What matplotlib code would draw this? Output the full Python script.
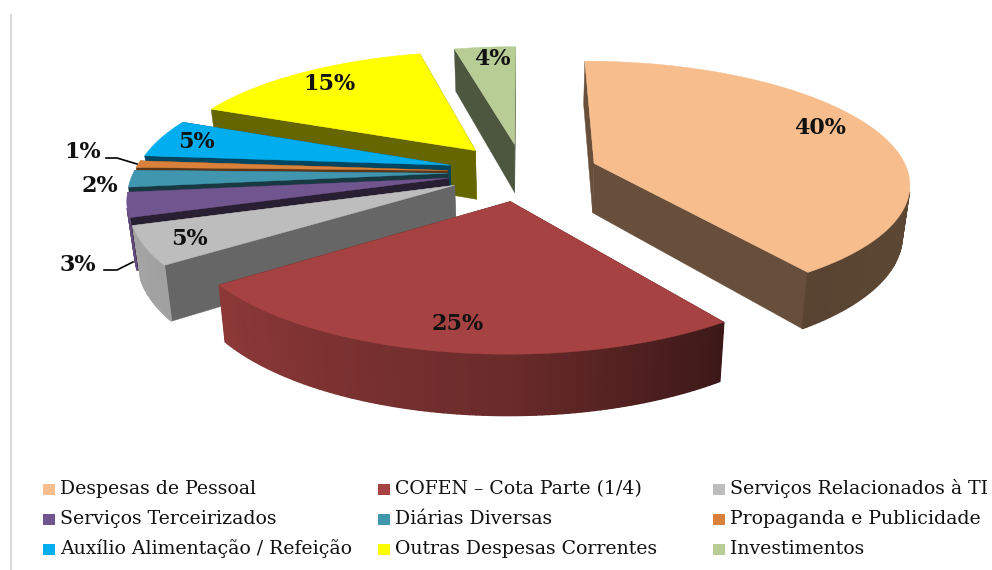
#!/usr/bin/env python
import numpy as np
import matplotlib
matplotlib.use("Agg")
import matplotlib.pyplot as plt

categories = ["Despesas de Pessoal", "COFEN – Cota Parte (1/4)", "Serviços Relacionados à TI",
              "Serviços Terceirizados", "Diárias Diversas", "Propaganda e Publicidade",
              "Auxílio Alimentação / Refeição", "Outras Despesas Correntes", "Investimentos"]
# shares, the chart labels round them
shares = [40.2, 24.8, 5.0, 3.2, 2.2, 0.9, 5.0, 15.0, 3.7]
colors = ["#F7BD8C", "#A64342", "#BDBDBD", "#70558F", "#3F96AE",
          "#D9813A", "#00AEEF", "#FFFF00", "#B8CC96"]
side_shade = [0.42, 0.42, 0.54, 0.36, 0.38, 0.42, 0.40, 0.40, 0.42]
label_pos = [(820, 128), (458, 324), (189, 239), (78, 265), (100, 186),
             (83, 152), (196, 142), (329, 84), (492, 59)]

# fake 3d camera, all in image pixels
CX, CY = 523, 172
RX, RY = 314, 120
PERSP = 0.15
DEPTH = 50
EXPLODE = 0.24
TAPER = 0.02


def project(px, py, low=False):
    s = 1 / (1 - PERSP * py)
    x = RX * px * s
    y = RY * py * s
    if low:
        return CX + x * (1 - TAPER), CY + y + DEPTH * s
    return CX + x, CY + y


def rgb(c, f):
    r, g, b = matplotlib.colors.to_rgb(c)
    return (r * f, g * f, b * f)


def front_facing(xs, ys):
    # y axis is flipped, clockwise on screen is positive here
    a = 0.
    for i in range(len(xs)):
        j = (i + 1) % len(xs)
        a += xs[i] * ys[j] - xs[j] * ys[i]
    return a


def draw_slice(ax, start, sweep, color, shade):
    mid = np.radians(start + sweep / 2)
    ox, oy = EXPLODE * np.sin(mid), -EXPLODE * np.cos(mid)
    th = np.radians(np.linspace(start, start + sweep, max(int(sweep), 2) + 1))
    rim_x = ox + np.sin(th)
    rim_y = oy - np.cos(th)

    # radial walls first
    for ex, ey in [(rim_x[0], rim_y[0]), (rim_x[-1], rim_y[-1])]:
        a = project(ox, oy)
        b = project(ex, ey)
        c = project(ex, ey, low=True)
        d = project(ox, oy, low=True)
        ax.fill([a[0], b[0], c[0], d[0]], [a[1], b[1], c[1], d[1]],
                color=rgb(color, shade), lw=0.3, zorder=2)

    # outer wall, small facets so the shading can run round the rim
    for i in range(len(th) - 1):
        a = project(rim_x[i], rim_y[i])
        b = project(rim_x[i + 1], rim_y[i + 1])
        c = project(rim_x[i + 1], rim_y[i + 1], low=True)
        d = project(rim_x[i], rim_y[i], low=True)
        xs = [a[0], b[0], c[0], d[0]]
        ys = [a[1], b[1], c[1], d[1]]
        if front_facing(xs, ys) > 0:
            continue
        f = np.interp(np.degrees(th[i]), [0, 144, 180, 234, 260, 360],
                      [0.42, 0.36, 0.64, 0.85, 0.88, 0.9])
        ax.fill(xs, ys, color=rgb(color, f), lw=1.0, zorder=2)

    tx, ty = project(rim_x, rim_y)
    tip = project(ox, oy)
    ax.fill(np.r_[tip[0], tx], np.r_[tip[1], ty], color=color, lw=0.3, zorder=2)


def main():
    fig = plt.figure(figsize=(9.92, 5.7), dpi=100)
    ax = fig.add_axes([0, 0, 1, 1])
    ax.set_xlim(0, 992)
    ax.set_ylim(570, 0)
    ax.axis("off")

    # chart frame, only the left edge is left on the picture
    ax.plot([11, 11], [15, 570], color="#d9d9d9", lw=1.5)

    vals = np.array(shares)
    sweeps = vals / vals.sum() * 360
    starts = np.r_[0, np.cumsum(sweeps)[:-1]]

    # back to front
    for i in [8, 7, 6, 5, 4, 3, 2, 0, 1]:
        draw_slice(ax, starts[i], sweeps[i], colors[i], side_shade[i])

    for v, (x, y) in zip(shares, label_pos):
        ax.text(x, y, "{}%".format(round(v)), ha="center", va="center",
                family="DejaVu Serif", weight="bold", fontsize=16, color="#111111", zorder=5)

    # leader lines of the two small labels
    ax.plot([106, 117, 137], [158, 158, 164], color="black", lw=1.2, zorder=5)
    ax.plot([104, 117, 133], [270, 270, 262], color="black", lw=1.2, zorder=5)

    # legend by hand, three rows of three
    col_x = [43, 378, 713]
    row_y = [489, 519, 549]
    for i, name in enumerate(categories):
        x, y = col_x[i % 3], row_y[i // 3]
        ax.fill([x, x + 12, x + 12, x], [y - 5.5, y - 5.5, y + 5.5, y + 5.5],
                color=colors[i], lw=0)
        ax.text(x + 17, y, name, ha="left", va="center", family="DejaVu Serif",
                fontsize=13.6, color="#111111")

    fig.savefig("out.png", dpi=100)


if __name__ == "__main__":
    main()
